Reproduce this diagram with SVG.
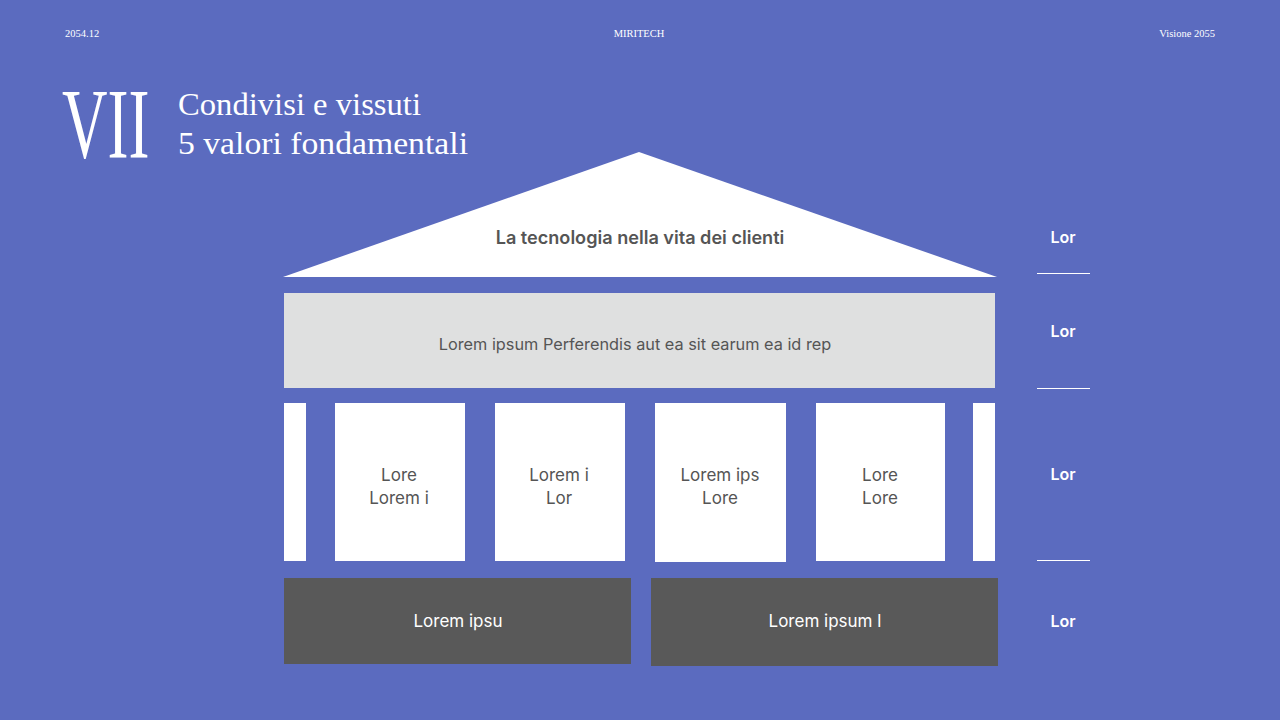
<svg xmlns="http://www.w3.org/2000/svg" width="1280" height="720" viewBox="0 0 1280 720">
<style>
.hdr{font-family:"Liberation Serif",serif;font-size:10.5px;fill:#ffffff}
.ttl{font-family:"Liberation Serif",serif;font-size:32px;fill:#ffffff}
.lbl{font-family:Inter,"Liberation Sans",sans-serif;font-size:17px;fill:#555555;text-anchor:middle}
.wlbl{font-family:Inter,"Liberation Sans",sans-serif;font-size:17px;fill:#ffffff;text-anchor:middle}
.side{font-family:Inter,"Liberation Sans",sans-serif;font-size:16px;font-weight:600;fill:#ffffff;text-anchor:middle}
.col{fill:#ffffff}
.sep{stroke:#ffffff;stroke-width:1}
</style>
<rect width="1280" height="720" fill="#5B6BBF"/>
<text class="hdr" x="65" y="37">2054.12</text>
<text class="hdr" x="639" y="37" text-anchor="middle">MIRITECH</text>
<text class="hdr" x="1215" y="37" text-anchor="end">Visione 2055</text>
<text transform="translate(62,157) scale(0.63,1)" x="0" y="0" font-family="'Liberation Serif',serif" font-size="100" fill="#ffffff">VII</text>
<text class="ttl" x="178" y="115" textLength="243" lengthAdjust="spacingAndGlyphs">Condivisi e vissuti</text>
<text class="ttl" x="178" y="154" textLength="290" lengthAdjust="spacingAndGlyphs">5 valori fondamentali</text>
<g id="roof">
<polygon points="639,152 997,277 283,277" fill="#ffffff"/>
<text class="lbl" x="640" y="244" style="font-weight:600;font-size:18.1px">La tecnologia nella vita dei clienti</text>
</g>
<g id="beam">
<rect x="284" y="293" width="711" height="95" fill="#DFE0E0"/>
<text class="lbl" x="635" y="350" style="font-size:16.3px">Lorem ipsum Perferendis aut ea sit earum ea id rep</text>
</g>
<g id="columns">
<rect class="col" x="284" y="403" width="22" height="158"/>
<rect class="col" x="973" y="403" width="22" height="158"/>
</g>
<g id="col1"><rect class="col" x="335" y="403" width="130" height="158"/><text class="lbl" x="399" y="481">Lore</text><text class="lbl" x="399" y="504">Lorem i</text></g>
<g id="col2"><rect class="col" x="495" y="403" width="130" height="158"/><text class="lbl" x="559" y="481">Lorem i</text><text class="lbl" x="559" y="504">Lor</text></g>
<g id="col3"><rect class="col" x="655" y="403" width="131" height="159"/><text class="lbl" x="720" y="481">Lorem ips</text><text class="lbl" x="720" y="504">Lore</text></g>
<g id="col4"><rect class="col" x="816" y="403" width="129" height="158"/><text class="lbl" x="880" y="481">Lore</text><text class="lbl" x="880" y="504">Lore</text></g>
<g id="base1"><rect x="284" y="578" width="347" height="86" fill="#595959"/><text class="wlbl" x="458" y="627">Lorem ipsu</text></g>
<g id="base2"><rect x="651" y="578" width="347" height="88" fill="#595959"/><text class="wlbl" x="825" y="627">Lorem ipsum l</text></g>
<g id="side">
<text class="side" x="1063" y="243">Lor</text>
<text class="side" x="1063" y="337">Lor</text>
<text class="side" x="1063" y="480">Lor</text>
<text class="side" x="1063" y="627">Lor</text>
</g>
<g id="connectors">
<line class="sep" x1="1037" y1="273.5" x2="1090" y2="273.5"/>
<line class="sep" x1="1037" y1="388.5" x2="1090" y2="388.5"/>
<line class="sep" x1="1037" y1="560.5" x2="1090" y2="560.5"/>
</g>
</svg>
